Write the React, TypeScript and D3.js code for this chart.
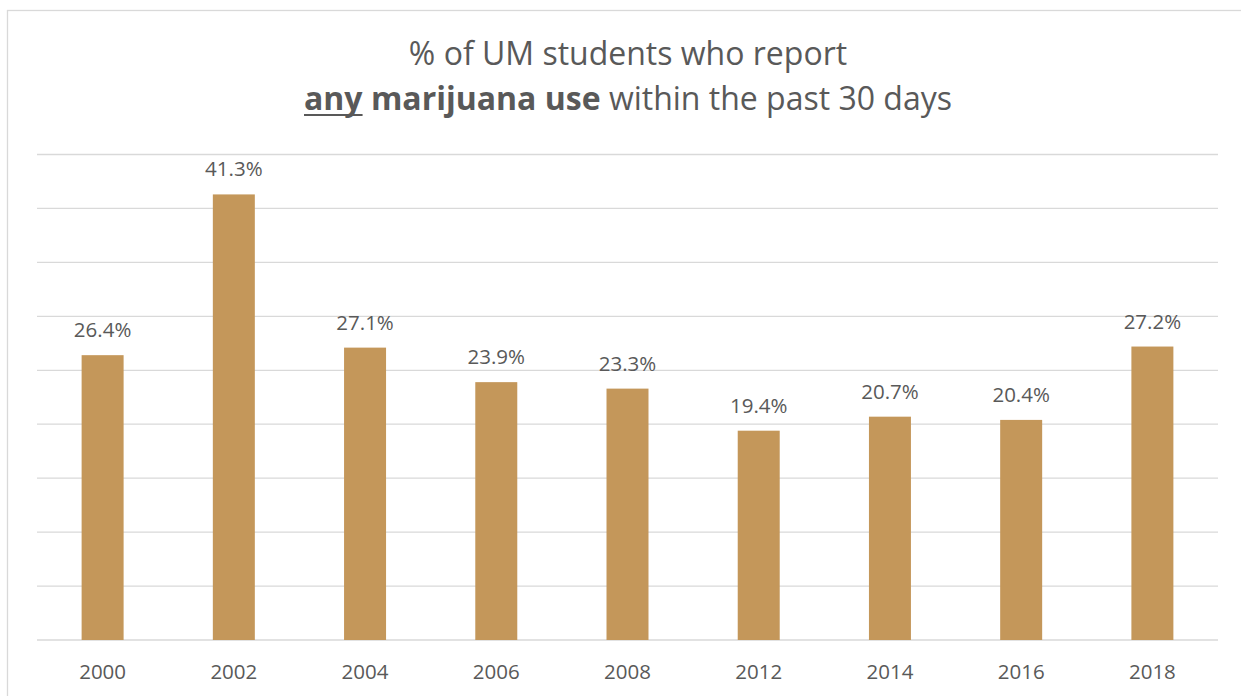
import React, { useEffect, useRef } from 'react';
import * as d3 from 'd3';

const years = ['2000', '2002', '2004', '2006', '2008', '2012', '2014', '2016', '2018'];
const values = [26.4, 41.3, 27.1, 23.9, 23.3, 19.4, 20.7, 20.4, 27.2];
const gridTicks = [0, 5, 10, 15, 20, 25, 30, 35, 40, 45];

const W = 1241;
const H = 696;
const FONT = '"Open Sans", "Noto Sans", sans-serif';
const TEXT = '#595959';
const BAR = '#C4975A';
const GRID = '#D9D9D9';

const App: React.FC = () => {
  const svgRef = useRef<SVGSVGElement>(null);

  useEffect(() => {
    if (!svgRef.current) return;
    const svg = d3.select(svgRef.current);
    svg.selectAll('*').remove();

    const left = 37, right = 1218, top = 154.5, bottom = 640;

    const x = d3.scaleBand<string>().domain(years).range([left, right]).paddingInner(0.68).paddingOuter(0.34);
    const y = d3.scaleLinear().domain([0, 45]).range([bottom, top]);

    // outer frame
    svg.append('rect')
      .attr('x', 7.5).attr('y', 10.5)
      .attr('width', W + 20).attr('height', H + 20)
      .attr('fill', 'none').attr('stroke', GRID).attr('stroke-width', 1.3);

    // gridlines
    svg.append('g').selectAll('line').data(gridTicks).join('line')
      .attr('x1', left).attr('x2', right)
      .attr('y1', d => y(d)).attr('y2', d => y(d))
      .attr('stroke', GRID).attr('stroke-width', 1.3);

    // bars
    svg.append('g').selectAll('rect').data(values).join('rect')
      .attr('x', (_, i) => x(years[i])!)
      .attr('width', x.bandwidth())
      .attr('y', d => y(d))
      .attr('height', d => bottom - y(d))
      .attr('fill', BAR);

    // value labels
    svg.append('g').selectAll('text').data(values).join('text')
      .attr('x', (_, i) => x(years[i])! + x.bandwidth() / 2)
      .attr('y', d => y(d) - 18)
      .attr('text-anchor', 'middle')
      .attr('font-family', FONT).attr('font-size', 20.5)
      .attr('fill', TEXT)
      .text(d => `${d.toFixed(1)}%`);

    // x axis labels
    svg.append('g').selectAll('text').data(years).join('text')
      .attr('x', d => x(d)! + x.bandwidth() / 2)
      .attr('y', 679)
      .attr('text-anchor', 'middle')
      .attr('font-family', FONT).attr('font-size', 20.5)
      .attr('fill', TEXT)
      .text(d => d);

    // title
    const cx = (left + right) / 2 + 0.5;
    svg.append('text')
      .attr('x', cx).attr('y', 65)
      .attr('text-anchor', 'middle')
      .attr('font-family', FONT).attr('font-size', 32)
      .attr('fill', TEXT)
      .text('% of UM students who report');

    const t2 = svg.append('text')
      .attr('x', cx).attr('y', 110)
      .attr('text-anchor', 'middle')
      .attr('font-family', FONT).attr('font-size', 32)
      .attr('fill', TEXT);
    const anySpan = t2.append('tspan').attr('font-weight', 'bold').text('any');
    t2.append('tspan').attr('font-weight', 'bold').text(' marijuana use');
    t2.append('tspan').text(' within the past 30 days');

    const node = anySpan.node() as SVGTextContentElement;
    const start = node.getStartPositionOfChar(0).x;
    const len = node.getSubStringLength(0, 3);
    svg.append('line')
      .attr('x1', start).attr('x2', start + len)
      .attr('y1', 115).attr('y2', 115)
      .attr('stroke', TEXT).attr('stroke-width', 2);
  }, []);

  return (
    <div style={{ position: 'absolute', left: 0, top: 0, width: W, height: H, background: '#fff', overflow: 'hidden' }}>
      <svg ref={svgRef} width={W} height={H} viewBox={`0 0 ${W} ${H}`} />
    </div>
  );
};

export default App;
